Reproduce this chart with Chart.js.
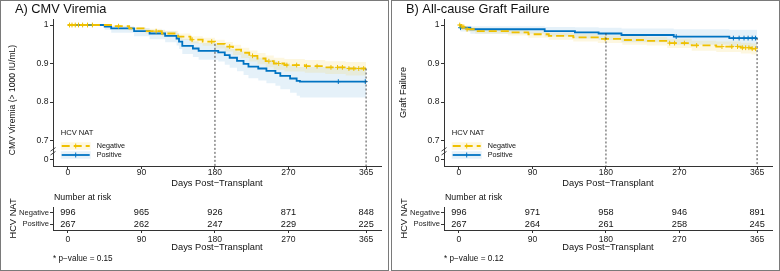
<!DOCTYPE html>
<html>
<head>
<meta charset="utf-8">
<script src="https://cdn.jsdelivr.net/npm/chart.js@4.4.1/dist/chart.umd.min.js"></script>
<style>
  html, body { margin: 0; padding: 0; background: #fff; }
  body { width: 780px; height: 271px; position: relative; overflow: hidden; }
  .panel { position: absolute; top: 0; width: 389px; height: 271px; }
  .frame { position: absolute; left: 0; top: 0; width: 389px; height: 271px; box-sizing: border-box; border: 1px solid #7a7a7a; }
  .panel canvas { position: absolute; left: 0; }
</style>
</head>
<body>
<div class="panel" style="left:0">
  <div class="frame"></div>
  <canvas id="kmA" width="388" height="192" style="top:0"></canvas>
  <canvas id="riskA" width="388" height="79" style="top:192px"></canvas>
</div>
<div class="panel" style="left:391px">
  <div class="frame"></div>
  <canvas id="kmB" width="388" height="192" style="top:0"></canvas>
  <canvas id="riskB" width="388" height="79" style="top:192px"></canvas>
</div>
<script>
Chart.defaults.font.family = '"Liberation Sans", Arial, sans-serif';
Chart.defaults.color = '#111';

const dayTicks = [0, 90, 180, 270, 365];
const markDays = [180, 365];
const groups = ['Negative', 'Positive'];
const yTickVals = [0.6494, 0.7, 0.8, 0.9, 1];
const yTickLabels = ['0', '0.7', '0.8', '0.9', '1'];

const yellow = '#EFC000';
const blue = '#0073C2';
const yellowFill = 'rgba(239,192,0,0.12)';
const blueFill = 'rgba(0,115,194,0.10)';

// A) CMV viremia, HCV NAT negative
const cmvNegT  = [0, 55, 75, 95, 115, 135, 150, 165, 180, 192, 202, 212, 222, 232, 242, 252, 265, 290, 315, 340];
const cmvNegS  = [1, .997, .991, .984, .978, .970, .962, .957, .951, .944, .936, .928, .920, .913, .906, .900, .896, .893, .890, .887];
const cmvNegLo = [1, .994, .986, .977, .970, .961, .952, .946, .939, .931, .922, .914, .905, .898, .890, .884, .879, .876, .873, .869];
const cmvNegHi = [1, .999, .995, .990, .985, .978, .971, .967, .962, .956, .949, .941, .934, .927, .921, .915, .912, .909, .906, .904];
const cmvNegCens = [2, 5, 9, 13, 18, 24, 30, 62, 108, 152, 176, 198, 226, 246, 258, 268, 280, 292, 305, 322, 330, 336, 344, 350, 356, 362];
// A) CMV viremia, HCV NAT positive
const cmvPosT  = [0, 45, 53, 81, 100, 119, 133, 136, 140, 153, 160, 184, 192, 198, 207, 215, 221, 233, 243, 254, 260, 272, 280, 284];
const cmvPosS  = [1, .996, .991, .984, .978, .972, .965, .957, .946, .939, .933, .929, .922, .915, .907, .899, .892, .887, .881, .875, .868, .861, .855, .853];
const cmvPosLo = [1, .988, .980, .971, .963, .955, .947, .938, .925, .917, .910, .905, .897, .889, .880, .870, .862, .856, .849, .842, .833, .824, .816, .812];
const cmvPosHi = [1, .999, .997, .992, .988, .984, .979, .973, .964, .958, .953, .950, .944, .938, .932, .925, .919, .915, .910, .905, .900, .895, .891, .891];
const cmvPosCens = [331, 364];
const cmvRiskNeg = [996, 965, 926, 871, 848];
const cmvRiskPos = [267, 262, 247, 229, 225];

// B) all-cause graft failure
const gfNegT  = [0, 3, 8, 20, 60, 85, 110, 140, 170, 200, 230, 255, 285, 315, 345, 358];
const gfNegS  = [1, .995, .989, .984, .981, .976, .972, .968, .964, .961, .959, .953, .947, .944, .941, .9385];
const gfNegLo = [1, .991, .983, .977, .973, .967, .962, .957, .953, .949, .947, .940, .933, .930, .926, .9235];
const gfNegHi = [1, .998, .994, .990, .987, .983, .980, .977, .973, .971, .969, .964, .959, .957, .954, .952];
const gfNegCens = [1, 4, 6, 10, 179, 258, 264, 276, 291, 322, 334, 341, 347, 351, 355, 359, 363];
const gfPosT  = [0, 2, 14, 105, 142, 171, 199, 263, 331];
const gfPosS  = [1, .993, .989, .984, .981, .978, .974, .970, .966];
const gfPosLo = [1, .983, .977, .970, .965, .961, .955, .949, .943];
const gfPosHi = [1, .998, .997, .995, .994, .993, .991, .989, .988];
const gfPosCens = [2, 266, 336, 343, 349, 354, 359, 363];
const gfRiskNeg = [996, 971, 958, 946, 891];
const gfRiskPos = [267, 264, 261, 258, 245];

function survAt(t, s, day) {
  let v = s[0];
  for (let i = 0; i < t.length; i++) if (t[i] <= day) v = s[i];
  return v;
}

function stepPts(t, s) {
  const pts = t.map((x, i) => ({ x: x, y: s[i] }));
  pts.push({ x: 365, y: s[s.length - 1] });
  return pts;
}

const kmExtras = {
  id: 'kmExtras',
  afterDatasetsDraw(chart, args, opts) {
    const ctx = chart.ctx, x = chart.scales.x, y = chart.scales.y, area = chart.chartArea;
    ctx.save();
    // dashed guide lines
    ctx.strokeStyle = '#333';
    ctx.lineWidth = 0.9;
    ctx.setLineDash([2, 2]);
    markDays.forEach(d => {
      const top = Math.max(...opts.series.map(g => survAt(g.t, g.s, d)));
      ctx.beginPath();
      ctx.moveTo(x.getPixelForValue(d), y.getPixelForValue(top));
      ctx.lineTo(x.getPixelForValue(d), area.bottom);
      ctx.stroke();
    });
    ctx.setLineDash([]);
    ctx.restore();
  },
  afterDraw(chart, args, opts) {
    const ctx = chart.ctx, y = chart.scales.y, area = chart.chartArea;
    ctx.save();
    // panel title
    ctx.fillStyle = '#111';
    ctx.font = '12.8px "Liberation Sans", Arial, sans-serif';
    ctx.textBaseline = 'alphabetic';
    ctx.textAlign = 'left';
    ctx.fillText(opts.title, 15, 12.8);
    // y axis title
    ctx.save();
    ctx.translate(12.6, opts.yTitleMid);
    ctx.rotate(-Math.PI / 2);
    ctx.textAlign = 'center';
    ctx.textBaseline = 'middle';
    ctx.font = opts.yTitleSize + 'px "Liberation Sans", Arial, sans-serif';
    ctx.fillText(opts.yTitle, 0, 0);
    ctx.restore();
    // axis break marks
    ctx.strokeStyle = '#333';
    ctx.lineWidth = 0.9;
    [0.677, 0.667].forEach(v => {
      const py = y.getPixelForValue(v);
      ctx.beginPath();
      ctx.moveTo(area.left - 2.5, py + 1.8);
      ctx.lineTo(area.left + 2.5, py - 1.8);
      ctx.stroke();
    });
    // legend
    const lx = area.left + 7.7;
    ctx.font = '7.6px "Liberation Sans", Arial, sans-serif';
    ctx.textBaseline = 'middle';
    ctx.fillStyle = '#111';
    ctx.fillText('HCV NAT', lx, area.bottom - 33);
    ctx.font = '7.2px "Liberation Sans", Arial, sans-serif';
    opts.series.forEach((g, i) => {
      const ry = area.bottom - 20 + i * 9;
      ctx.fillStyle = g.fill;
      ctx.fillRect(lx, ry - 3.8, 30, 7.6);
      ctx.strokeStyle = g.color;
      ctx.lineWidth = 1.8;
      ctx.setLineDash(g.dash);
      ctx.beginPath();
      ctx.moveTo(lx + 1, ry);
      ctx.lineTo(lx + 29, ry);
      ctx.stroke();
      ctx.setLineDash([]);
      ctx.lineWidth = 1;
      ctx.beginPath();
      ctx.moveTo(lx + 15, ry - 2.5);
      ctx.lineTo(lx + 15, ry + 2.5);
      ctx.stroke();
      ctx.fillStyle = '#111';
      ctx.fillText(g.label, lx + 36, ry);
    });
    ctx.restore();
  }
};

function kmChart(id, title, yTitle, yTitleSize, yTitleMid, series) {
  const datasets = [];
  series.forEach(g => {
    datasets.push({ data: stepPts(g.t, g.lo), stepped: true, borderWidth: 0, pointRadius: 0, fill: false, order: 5 });
    datasets.push({ data: stepPts(g.t, g.hi), stepped: true, borderWidth: 0, pointRadius: 0, fill: '-1', backgroundColor: g.fill, order: 5 });
  });
  series.forEach(g => {
    datasets.push({ label: g.label, data: stepPts(g.t, g.s), stepped: true, borderColor: g.color, borderWidth: 1.8, borderDash: g.dash, pointRadius: 0, fill: false, order: 2 });
  });
  series.forEach(g => {
    datasets.push({ data: g.cens.map(c => ({ x: c, y: survAt(g.t, g.s, c) })), showLine: false, pointStyle: 'cross', pointRadius: 2.4, pointBorderWidth: 1, pointBorderColor: g.color, order: 1 });
  });
  return new Chart(document.getElementById(id), {
    type: 'line',
    data: { datasets },
    plugins: [kmExtras],
    options: {
      responsive: false,
      animation: false,
      devicePixelRatio: 1,
      layout: { padding: { top: 19, right: 7, left: 0, bottom: 0 } },
      plugins: {
        legend: { display: false },
        tooltip: { enabled: false },
        kmExtras: { title, series, yTitle, yTitleSize, yTitleMid }
      },
      scales: {
        x: {
          type: 'linear', min: -18.25, max: 383.25,
          afterBuildTicks: s => { s.ticks = dayTicks.map(v => ({ value: v })); },
          afterFit: s => { s.height = 26; },
          ticks: { font: { size: 8.6 }, color: '#222', padding: -2, maxRotation: 0, autoSkip: false },
          grid: { drawOnChartArea: false, drawTicks: true, tickLength: 3, color: '#333' },
          border: { display: true, color: '#333', width: 1 },
          title: { display: true, text: 'Days Post\u2212Transplant', font: { size: 9.3 }, color: '#111', padding: { top: 0, bottom: 3.4 } }
        },
        y: {
          type: 'linear', min: 0.6338, max: 1.0156,
          afterBuildTicks: s => { s.ticks = yTickVals.map(v => ({ value: v })); },
          afterFit: s => { s.width = 53; },
          ticks: { font: { size: 8.6 }, color: '#222', padding: 1.5, callback: (v, i) => yTickLabels[i] },
          grid: { drawOnChartArea: false, drawTicks: true, tickLength: 3, color: '#333' },
          border: { display: true, color: '#333', width: 1 }
        }
      }
    }
  });
}

const riskExtras = {
  id: 'riskExtras',
  afterDatasetsDraw(chart, args, opts) {
    const ctx = chart.ctx, area = chart.chartArea;
    ctx.save();
    ctx.fillStyle = '#111';
    ctx.font = '9.2px "Liberation Sans", Arial, sans-serif';
    ctx.textAlign = 'center';
    ctx.textBaseline = 'middle';
    chart.data.datasets.forEach((ds, di) => {
      const meta = chart.getDatasetMeta(di);
      meta.data.forEach((pt, i) => ctx.fillText(String(ds.data[i].n), pt.x, pt.y));
    });
    ctx.textAlign = 'left';
    ctx.font = '8.8px "Liberation Sans", Arial, sans-serif';
    ctx.fillText('Number at risk', area.left + 1, area.top - 9);
    ctx.font = '8.2px "Liberation Sans", Arial, sans-serif';
    ctx.fillText('* p\u2212value = ' + opts.p, area.left, area.bottom + 28.3);
    ctx.restore();
  }
};

function riskChart(id, riskNeg, riskPos, p) {
  const rows = [riskNeg, riskPos];
  return new Chart(document.getElementById(id), {
    type: 'scatter',
    data: {
      datasets: rows.map((r, gi) => ({
        data: r.map((n, i) => ({ x: dayTicks[i], y: groups[gi], n })),
        pointRadius: 0
      }))
    },
    plugins: [riskExtras],
    options: {
      responsive: false,
      animation: false,
      devicePixelRatio: 1,
      layout: { padding: { top: 15, right: 7, left: 0, bottom: 0 } },
      plugins: { legend: { display: false }, tooltip: { enabled: false }, riskExtras: { p } },
      scales: {
        x: {
          type: 'linear', min: -18.25, max: 383.25,
          afterBuildTicks: s => { s.ticks = dayTicks.map(v => ({ value: v })); },
          afterFit: s => { s.height = 41; },
          ticks: { font: { size: 8.6 }, color: '#222', padding: 1, maxRotation: 0, autoSkip: false },
          grid: { drawOnChartArea: false, drawTicks: true, tickLength: 3, color: '#333' },
          border: { display: true, color: '#333', width: 1 },
          title: { display: true, text: 'Days Post\u2212Transplant', font: { size: 9.3 }, color: '#111', padding: { top: 0, bottom: 18 } }
        },
        y: {
          type: 'category', labels: groups, offset: true,
          afterFit: s => { s.width = 53; },
          ticks: { font: { size: 7.6 }, color: '#222', padding: 1, autoSkip: false },
          grid: { drawOnChartArea: false, drawTicks: true, tickLength: 3, color: '#333' },
          border: { display: true, color: '#333', width: 1 },
          title: { display: true, text: 'HCV NAT', font: { size: 9.3 }, color: '#111', padding: { top: 7.5, bottom: 0 } }
        }
      }
    }
  });
}

kmChart('kmA', 'A) CMV Viremia', 'CMV Viremia (> 1000 IU/mL)', 8.6, 100, [
  { label: 'Negative', t: cmvNegT, s: cmvNegS, lo: cmvNegLo, hi: cmvNegHi, cens: cmvNegCens, color: yellow, fill: yellowFill, dash: [8, 4] },
  { label: 'Positive', t: cmvPosT, s: cmvPosS, lo: cmvPosLo, hi: cmvPosHi, cens: cmvPosCens, color: blue, fill: blueFill, dash: [] }
]);
riskChart('riskA', cmvRiskNeg, cmvRiskPos, '0.15');

kmChart('kmB', 'B) All-cause Graft Failure', 'Graft Failure', 9.2, 92.5, [
  { label: 'Negative', t: gfNegT, s: gfNegS, lo: gfNegLo, hi: gfNegHi, cens: gfNegCens, color: yellow, fill: yellowFill, dash: [8, 4] },
  { label: 'Positive', t: gfPosT, s: gfPosS, lo: gfPosLo, hi: gfPosHi, cens: gfPosCens, color: blue, fill: blueFill, dash: [] }
]);
riskChart('riskB', gfRiskNeg, gfRiskPos, '0.12');
</script>
</body>
</html>
